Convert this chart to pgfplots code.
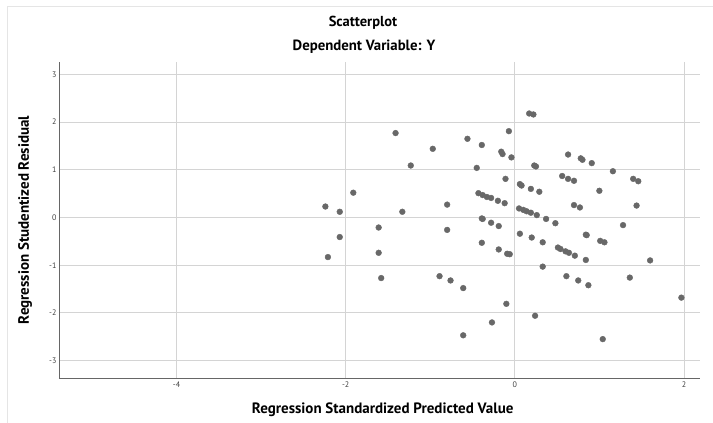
\documentclass[border=0pt]{standalone}
\usepackage{fontspec}
\setmainfont{PT Sans}
\usepackage{pgfplots}
\pgfplotsset{compat=1.18}
\definecolor{dotc}{HTML}{686868}
\definecolor{gridc}{HTML}{D4D4D4}
\begin{document}
\begin{tikzpicture}[x=1pt,y=1pt]
\useasboundingbox (0pt,0pt) rectangle (713pt,423pt);
\draw[gray!20, line width=0.8pt] (7pt,0pt) -- (7pt,417pt) -- (713pt,417pt);
\node[font=\bfseries\fontsize{14.5}{16}\selectfont] at (363pt,400pt) {Scatterplot};
\node[font=\bfseries\fontsize{14.8}{16}\selectfont] at (364pt,376pt) {Dependent Variable: Y};
\begin{axis}[
  at={(59pt,45pt)}, anchor=south west, scale only axis,
  width=641pt, height=316pt,
  xmin=-5.39, xmax=2.19, ymin=-3.365, ymax=3.26,
  xtick={-4,-2,0,2}, ytick={-3,-2,-1,0,1,2,3},
  grid=major, major grid style={gridc, line width=0.8pt},
  axis x line*=bottom, axis y line*=left,
  axis line style={gray!80!black, line width=0.8pt},
  tick style={draw=none},
  /pgf/number format/assume math mode=true,
  ticklabel style={font=\fontsize{8}{9}\selectfont, text=black!75},
  yticklabel style={xshift=1pt},
  label style={font=\bfseries\fontsize{15}{17}\selectfont},
  xlabel={Regression Standardized Predicted Value},
  ylabel={Regression Studentized Residual},
  xlabel style={at={(axis description cs:0.505,-0.101)}, anchor=center},
  ylabel style={at={(axis description cs:-0.053,0.5)}, anchor=center},
]
\addplot[only marks, mark=*, mark size=2.9pt, color=dotc] coordinates {
(-1.41,1.77) (-0.56,1.65) (-0.39,1.52) (-0.97,1.44) (-0.16,1.38) (-0.145,1.33)
(-1.23,1.09) (-0.45,1.04) (-1.91,0.52)
(-0.43,0.51) (-0.38,0.47) (-0.33,0.43) (-0.28,0.41) (-0.20,0.35)
(-2.24,0.23) (-2.07,0.12) (-1.33,0.12) (-0.80,0.27)
(-0.39,-0.02) (-0.38,-0.03) (-0.28,-0.11) (-0.19,-0.18)
(-1.61,-0.21) (-0.80,-0.26) (-2.07,-0.41) (-0.39,-0.53) (-0.19,-0.67)
(0.17,2.18) (0.22,2.16) (-0.07,1.81) (-0.04,1.26) (0.63,1.32)
(0.78,1.24) (0.80,1.21) (0.91,1.14) (0.23,1.09) (0.25,1.07) (1.16,0.97)
(-0.11,0.81) (0.56,0.87) (0.63,0.81) (0.70,0.77) (1.40,0.81) (1.46,0.76)
(0.06,0.70) (0.08,0.67) (0.19,0.60) (0.29,0.54) (1.00,0.56)
(-0.12,0.30) (0.70,0.26) (0.77,0.21) (1.44,0.25)
(0.05,0.19) (0.10,0.16) (0.14,0.13) (0.19,0.10) (0.26,0.05) (0.37,-0.03)
(0.48,-0.12) (1.28,-0.16) (0.06,-0.34) (0.20,-0.42) (0.33,-0.52)
(0.84,-0.36) (0.85,-0.37) (1.01,-0.49) (1.06,-0.52)
(-0.09,-0.76) (-0.06,-0.77) (0.51,-0.63) (0.54,-0.66)
(0.60,-0.71) (0.64,-0.74) (0.71,-0.80) (0.84,-0.89) (1.60,-0.90)
(0.33,-1.03) (0.61,-1.23) (0.75,-1.32) (0.87,-1.42) (1.36,-1.26)
(1.97,-1.68) (-0.10,-1.81) (0.24,-2.06) (-0.27,-2.20) (1.04,-2.55)
(-2.21,-0.83) (-1.61,-0.74) (-1.58,-1.27) (-0.89,-1.23) (-0.76,-1.32)
(-0.61,-1.48) (-0.61,-2.47)
};
\end{axis}
\end{tikzpicture}
\end{document}
